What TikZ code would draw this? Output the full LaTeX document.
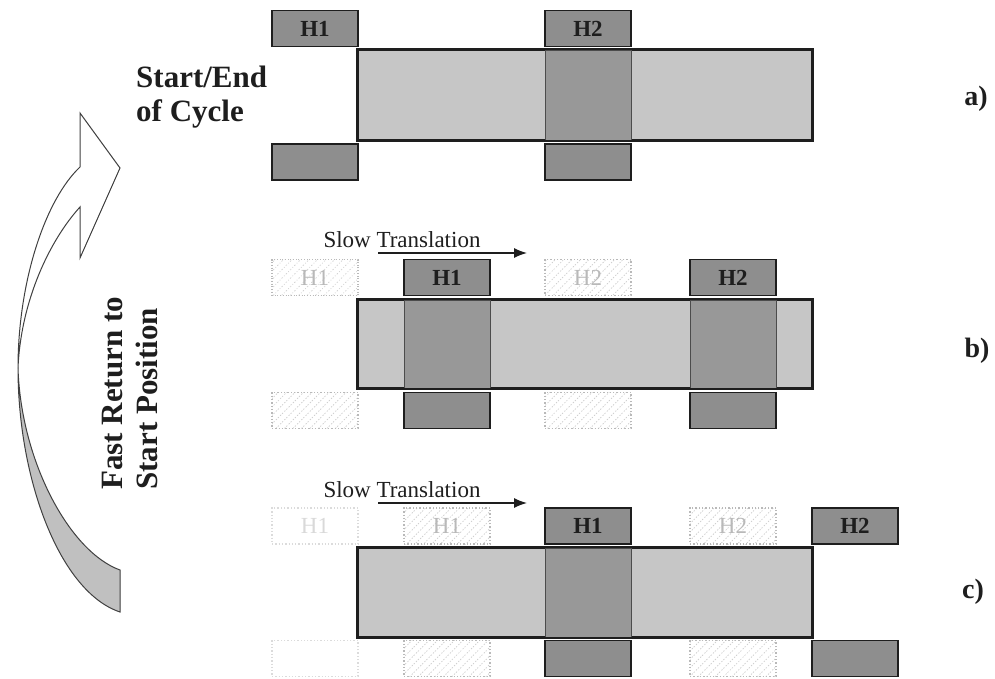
\documentclass[tikz,border=0pt]{standalone}
\usepackage{fontspec}
\setmainfont{Liberation Serif}
\usetikzlibrary{arrows.meta,patterns.meta}
\definecolor{boxfill}{RGB}{142,142,142}
\definecolor{barfill}{RGB}{198,198,198}
\definecolor{secfill}{RGB}{152,152,152}
\definecolor{ink}{RGB}{30,30,30}
\definecolor{arrowback}{RGB}{192,192,192}
\tikzset{
  solidhead/.style={draw=ink, line width=1.8pt, fill=boxfill, minimum width=86pt, minimum height=36pt, inner sep=0pt, font=\fontsize{23}{23}\selectfont\bfseries, text=ink},
  ghosthead/.style={draw=gray!55, dotted, line width=1.3pt, pattern={Lines[angle=45, distance=6pt, line width=0.7pt]}, pattern color=gray!40, minimum width=86pt, minimum height=36pt, inner sep=0pt, font=\fontsize{23}{23}\selectfont, text=gray!55},
  fainthead/.style={draw=gray!28, dotted, line width=1.3pt, minimum width=86pt, minimum height=36pt, inner sep=0pt, font=\fontsize{23}{23}\selectfont, text=gray!30},
  barbox/.style={draw=ink, line width=2.2pt, fill=barfill, minimum width=454pt, inner sep=0pt},
  barline/.style={draw=ink, line width=2.2pt},
  secbox/.style={draw=gray!60!black, line width=0.8pt, fill=secfill, minimum width=86pt, inner sep=0pt},
  transarrow/.style={draw=ink, line width=1.4pt, -{Latex[length=13pt,width=10pt]}},
  sttext/.style={font=\fontsize{23}{23}\selectfont, text=ink, inner sep=0pt, anchor=base},
  bigbold/.style={font=\fontsize{31}{31}\selectfont\bfseries, text=ink, inner sep=0pt},
  panellabel/.style={font=\fontsize{28}{28}\selectfont\bfseries, text=ink, inner sep=0pt},
  curveline/.style={draw=ink!85, line width=1pt, line join=miter}
}
\begin{document}
\begin{tikzpicture}[x=1pt,y=-1pt]
\useasboundingbox (0,0) rectangle (995,679);
\fill[white] (0,0) rectangle (995,679);

% ---------- left curved arrow ----------
\path[curveline, fill=arrowback]
  (18,368) .. controls (18,480) and (60,592) .. (120,612)
  -- (120,570) .. controls (70,552) and (21,462) .. (18,368) -- cycle;
\path[curveline, fill=white]
  (80,167) -- (80,113) -- (120,168) -- (80,258) -- (80,207)
  .. controls (50,240) and (21,300) .. (18,368)
  .. controls (18,282) and (45,200) .. (80,167) -- cycle;

\node[bigbold, rotate=90, anchor=base west] (fr1) at (122,490) {Fast Return to};
\node[bigbold, rotate=90, anchor=base west] (fr2) at (157,490) {Start Position};

% ---------- Start/End text ----------
\node[bigbold, anchor=base west] (se1) at (136,88) {Start/End};
\node[bigbold, anchor=base west] (se2) at (136,122) {of Cycle};

% ---------- panel a ----------
\node[barbox, minimum height=90pt] (abar) at (585,95) {};
\node[secbox, minimum height=90pt] (asec) at (588,95) {};
\draw[barline] (abar.north west) rectangle (abar.south east);
\node[solidhead] (a1t) at (315,28.5) {H1};
\node[solidhead] (a2t) at (588,28.5) {H2};
\node[solidhead] (a1b) at (315,162) {};
\node[solidhead] (a2b) at (588,162) {};
\node[panellabel] (la) at (976,99) {a)};

% ---------- panel b ----------
\node[sttext] (stb) at (402,247) {Slow Translation};
\coordinate (sbs) at (378,253);
\coordinate (sbe) at (527,253);
\draw[transarrow] (sbs) -- (sbe);
\node[ghosthead] (b1g) at (315,277.5) {H1};
\node[solidhead] (b1t) at (447,277.5) {H1};
\node[ghosthead] (b2g) at (588,277.5) {H2};
\node[solidhead] (b2t) at (733,277.5) {H2};
\node[barbox, minimum height=88pt] (bbar) at (585,344) {};
\node[secbox, minimum height=88pt] (bsec1) at (447,344) {};
\node[secbox, minimum height=88pt] (bsec2) at (733,344) {};
\draw[barline] (bbar.north west) rectangle (bbar.south east);
\node[ghosthead] (b1gb) at (315,410.5) {};
\node[solidhead] (b1b) at (447,410.5) {};
\node[ghosthead] (b2gb) at (588,410.5) {};
\node[solidhead] (b2b) at (733,410.5) {};
\node[panellabel] (lb) at (977,351) {b)};

% ---------- panel c ----------
\node[sttext] (stc) at (402,497) {Slow Translation};
\coordinate (scs) at (378,503);
\coordinate (sce) at (527,503);
\draw[transarrow] (scs) -- (sce);
\node[fainthead] (c1f) at (315,526) {H1};
\node[ghosthead] (c1g) at (447,526) {H1};
\node[solidhead] (c1t) at (588,526) {H1};
\node[ghosthead] (c2g) at (733,526) {H2};
\node[solidhead] (c2t) at (855,526) {H2};
\node[barbox, minimum height=89pt] (cbar) at (585,592.5) {};
\node[secbox, minimum height=89pt] (csec) at (588,592.5) {};
\draw[barline] (cbar.north west) rectangle (cbar.south east);
\node[fainthead] (c1fb) at (315,658.5) {};
\node[ghosthead] (c1gb) at (447,658.5) {};
\node[solidhead] (c1b) at (588,658.5) {};
\node[ghosthead] (c2gb) at (733,658.5) {};
\node[solidhead] (c2b) at (855,658.5) {};
\node[panellabel] (lc) at (973,592) {c)};
\end{tikzpicture}
\end{document}
